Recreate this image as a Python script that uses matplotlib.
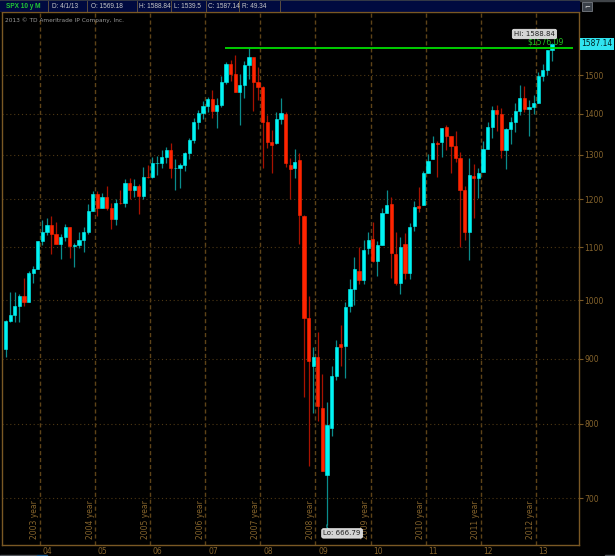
import matplotlib
matplotlib.use('Agg')
import matplotlib.pyplot as plt
import matplotlib.transforms as mtransforms
from matplotlib.patches import Rectangle
from matplotlib.ticker import NullLocator
import numpy as np

# SPX monthly candles, May 2003 .. Apr 2013
opens = [916.30, 963.59, 974.50, 990.31, 1008.01, 995.97, 1050.71, 1058.20,
         1111.92, 1131.13, 1144.94, 1126.21, 1107.30, 1120.68, 1140.84, 1101.72, 1104.24, 1114.58, 1130.20, 1173.82,
         1211.92, 1181.27, 1203.60, 1180.59, 1156.85, 1191.50, 1191.33, 1234.18, 1220.33, 1228.81, 1207.01, 1249.48,
         1248.29, 1280.08, 1280.66, 1294.87, 1310.61, 1270.09, 1270.20, 1276.66, 1303.82, 1335.85, 1377.94, 1400.63,
         1418.30, 1438.24, 1406.82, 1420.86, 1482.37, 1530.62, 1503.35, 1455.27, 1473.99, 1526.75, 1549.38, 1481.14,
         1467.97, 1378.60, 1330.45, 1326.41, 1385.97, 1399.62, 1276.69, 1269.42, 1287.83, 1164.17, 968.67, 888.61,
         902.99, 823.09, 729.57, 793.59, 872.74, 923.26, 920.82, 990.22, 1019.52, 1054.91, 1036.18, 1098.89,
         1116.56, 1073.89, 1105.36, 1171.23, 1188.58, 1087.30, 1031.10, 1107.53, 1049.72, 1143.49, 1185.71, 1186.60,
         1257.62, 1289.14, 1328.64, 1329.48, 1365.21, 1345.20, 1320.64, 1292.59, 1219.12, 1131.21, 1251.00, 1246.91,
         1258.86, 1312.45, 1365.90, 1408.47, 1397.86, 1309.87, 1362.33, 1379.32, 1406.54, 1440.90, 1412.20, 1416.18,
         1426.19, 1498.11, 1514.68, 1569.18]
highs = [965.38, 1015.33, 1015.41, 1011.01, 1040.29, 1053.79, 1063.65, 1112.56,
         1155.38, 1158.98, 1163.23, 1150.57, 1127.74, 1146.34, 1140.84, 1108.60, 1131.54, 1142.05, 1188.46, 1217.33,
         1217.80, 1212.44, 1229.11, 1191.88, 1199.56, 1219.59, 1245.15, 1245.86, 1243.13, 1233.34, 1270.64, 1275.80,
         1294.90, 1297.57, 1310.88, 1318.16, 1326.70, 1290.68, 1280.42, 1306.74, 1340.28, 1389.45, 1407.89, 1431.81,
         1441.61, 1461.57, 1438.89, 1498.02, 1535.56, 1540.56, 1555.90, 1503.89, 1538.74, 1576.09, 1545.79, 1523.57,
         1471.77, 1396.02, 1359.68, 1404.57, 1440.24, 1404.05, 1292.17, 1313.15, 1303.04, 1167.03, 1007.51, 918.85,
         943.85, 875.01, 832.98, 888.70, 930.17, 956.23, 996.68, 1039.47, 1080.15, 1101.36, 1113.69, 1130.38,
         1150.45, 1112.42, 1180.69, 1219.80, 1205.13, 1131.23, 1120.95, 1129.24, 1148.90, 1196.14, 1227.08, 1262.60,
         1302.67, 1344.07, 1332.28, 1364.56, 1370.58, 1345.20, 1356.48, 1307.38, 1229.29, 1292.66, 1277.55, 1269.37,
         1333.47, 1378.04, 1419.15, 1422.38, 1415.32, 1363.46, 1391.74, 1426.68, 1474.51, 1470.96, 1434.27, 1448.00,
         1509.94, 1530.94, 1570.28, 1588.84]
lows = [902.83, 961.00, 962.10, 960.84, 990.36, 995.97, 1031.20, 1058.20,
        1105.08, 1124.44, 1087.16, 1107.23, 1076.32, 1113.32, 1078.78, 1060.72, 1099.18, 1090.19, 1127.60, 1173.76,
        1163.75, 1180.95, 1176.92, 1136.15, 1146.18, 1188.30, 1183.55, 1201.07, 1205.35, 1168.20, 1201.07, 1246.59,
        1245.74, 1253.61, 1268.42, 1280.74, 1245.34, 1219.29, 1224.54, 1261.30, 1290.93, 1327.10, 1360.98, 1385.93,
        1403.97, 1389.42, 1363.98, 1416.37, 1476.70, 1484.18, 1454.25, 1370.60, 1439.29, 1489.56, 1406.10, 1435.65,
        1270.05, 1316.75, 1256.98, 1324.35, 1373.07, 1272.00, 1200.44, 1247.45, 1106.42, 839.80, 741.02, 815.69,
        804.30, 734.52, 666.79, 783.32, 866.10, 888.86, 869.32, 978.51, 991.97, 1029.38, 1029.38, 1085.89,
        1071.59, 1044.50, 1105.36, 1170.69, 1040.78, 1028.33, 1010.91, 1039.70, 1039.70, 1131.87, 1173.00, 1186.60,
        1257.62, 1289.14, 1249.05, 1294.70, 1311.80, 1258.07, 1282.86, 1101.54, 1114.22, 1074.77, 1158.66, 1202.37,
        1258.86, 1312.45, 1340.03, 1357.38, 1291.98, 1266.74, 1325.41, 1354.65, 1396.56, 1403.28, 1343.35, 1398.11,
        1426.19, 1485.01, 1501.48, 1539.50]
closes = [963.59, 974.50, 990.31, 1008.01, 995.97, 1050.71, 1058.20, 1111.92,
          1131.13, 1144.94, 1126.21, 1107.30, 1120.68, 1140.84, 1101.72, 1104.24, 1114.58, 1130.20, 1173.82, 1211.92,
          1181.27, 1203.60, 1180.59, 1156.85, 1191.50, 1191.33, 1234.18, 1220.33, 1228.81, 1207.01, 1249.48, 1248.29,
          1280.08, 1280.66, 1294.87, 1310.61, 1270.09, 1270.20, 1276.66, 1303.82, 1335.85, 1377.94, 1400.63, 1418.30,
          1438.24, 1406.82, 1420.86, 1482.37, 1530.62, 1503.35, 1455.27, 1473.99, 1526.75, 1549.38, 1481.14, 1468.36,
          1378.55, 1330.63, 1322.70, 1385.59, 1400.38, 1280.00, 1267.38, 1282.83, 1166.36, 968.75, 896.24, 903.25,
          825.88, 735.09, 797.87, 872.81, 919.14, 919.32, 987.48, 1020.62, 1057.08, 1036.19, 1095.63, 1115.10,
          1073.87, 1104.49, 1169.43, 1186.69, 1089.41, 1030.71, 1101.60, 1049.33, 1141.20, 1183.26, 1180.55, 1257.64,
          1286.12, 1327.22, 1325.83, 1363.61, 1345.20, 1320.64, 1292.28, 1218.89, 1131.42, 1253.30, 1246.96, 1257.60,
          1312.41, 1365.68, 1408.47, 1397.91, 1310.33, 1362.16, 1379.32, 1406.58, 1440.67, 1412.16, 1416.18, 1426.19,
          1498.11, 1514.68, 1569.19, 1587.14]

price_ticks = [700, 800, 900, 1000, 1100, 1200, 1300, 1400, 1500]
year_labels = ['2003 year', '2004 year', '2005 year', '2006 year', '2007 year',
               '2008 year', '2009 year', '2010 year', '2011 year', '2012 year']
month_labels = ['04', '05', '06', '07', '08', '09', '10', '11', '12', '13']
first_jan = 8          # index of Jan 2004
level_line = 1576.09   # drawn price level
header = ['SPX 10 y M', 'D: 4/1/13', 'O: 1569.18', 'H: 1588.84', 'L: 1539.5', 'C: 1587.14', 'R: 49.34']

o = np.array(opens); h = np.array(highs); l = np.array(lows); c = np.array(closes)
idx = np.arange(len(c))
up = c >= o

axis_col = '#7a5824'
text_col = '#86642c'
cyan = '#00f4f4'
red = '#ff2400'

fig = plt.figure(figsize=(6.15, 5.56), dpi=100, facecolor='black')
ax = fig.add_axes([2 / 615, 11 / 556, 577 / 615, 533 / 556], facecolor='black')
ax.set_yscale('log')
ax.set_ylim(643.2, 1681.2)
ax.set_xlim(-0.78, 124.9)

# grid
for k in range(len(year_labels)):
    ax.axvline(first_jan - 0.5 + 12 * k, color='#5e4318', lw=1.0, linestyle=(0, (3, 2)), zorder=0)
for p in price_ticks:
    ax.axhline(p, color='#4e3814', lw=0.8, linestyle=(0, (1, 2.5)), zorder=0)

# candles
ax.vlines(idx[up], l[up], h[up], color='#0a8c8c', lw=0.9, zorder=2)
ax.vlines(idx[~up], l[~up], h[~up], color='#a81200', lw=0.9, zorder=2)
ax.bar(idx[up], c[up] - o[up], bottom=o[up], width=0.7, color=cyan, edgecolor=cyan, lw=0.4, zorder=3)
ax.bar(idx[~up], o[~up] - c[~up], bottom=c[~up], width=0.7, color=red, edgecolor=red, lw=0.4, zorder=3)

# price level line
ax.hlines(level_line, 47.8, 123.6, color='#00dd00', lw=1.3, zorder=4)
ax.text(121.6, level_line * 1.003, '$' + format(level_line, '.2f'), color='#22c022',
        fontsize=5.5, ha='right', va='bottom', zorder=5)

# hi / lo bubbles
last = len(c) - 1
ax.text(last - 3.8, h[last] * 1.017, 'Hi: ' + format(h[last], '.2f'), fontsize=5, color='#202020',
        ha='center', va='center', zorder=6,
        bbox=dict(boxstyle='round,pad=0.25', fc='#d4d4d4', ec='#f0f0f0', lw=0.5))
ilo = int(np.argmin(l))
ax.plot([ilo, ilo, ilo + 0.6], [l[ilo], l[ilo] * 0.996, l[ilo] * 0.989], color='#19b4b4', lw=0.8, zorder=5)
ax.text(ilo + 3.3, l[ilo] * 0.985, 'Lo: ' + format(l[ilo], '.2f'), fontsize=5, color='#202020',
        ha='center', va='center', zorder=6,
        bbox=dict(boxstyle='round,pad=0.25', fc='#d4d4d4', ec='#f0f0f0', lw=0.5))

# last price marker on the right axis
ytr = mtransforms.blended_transform_factory(ax.transAxes, ax.transData)
ax.text(1.004, c[last], format(c[last], '.2f'), transform=ytr, fontsize=5.5, color='#002020',
        ha='left', va='center', zorder=6, clip_on=False,
        bbox=dict(boxstyle='square,pad=0.15', fc='#30e4f0', ec='none'))

# axes styling
ax.yaxis.tick_right()
ax.set_yticks(price_ticks)
ax.set_yticklabels([str(p) for p in price_ticks])
ax.yaxis.set_minor_locator(NullLocator())
ax.tick_params(axis='y', colors=axis_col, labelcolor=text_col, labelsize=5.5, length=3, width=0.8, pad=1)
ax.set_xticks([])
for side in ['left', 'right', 'bottom', 'top']:
    ax.spines[side].set_color(axis_col)
    ax.spines[side].set_linewidth(1.0)

xtr = mtransforms.blended_transform_factory(ax.transData, ax.transAxes)
for k, (yl, ml) in enumerate(zip(year_labels, month_labels)):
    gx = first_jan - 0.5 + 12 * k
    ax.text(gx - 1.1, 0.011, yl, transform=xtr, rotation=90, fontsize=5.5, color=text_col,
            ha='center', va='bottom')
    ax.text(gx + 0.6, -0.012, ml, transform=xtr, fontsize=5.5, color=text_col,
            ha='left', va='center', clip_on=False)

# header bar
hdr = fig.add_axes([0, 1 - 12 / 556, 1, 12 / 556])
hdr.set_xlim(0, 615)
hdr.set_ylim(12, 0)
hdr.axis('off')
hdr.add_patch(Rectangle((0, 0), 615, 1.2, color='#404448'))
hdr.add_patch(Rectangle((0, 1.2), 579, 10.3, color='#000a40'))
hdr.plot([0, 579], [11.6, 11.6], color=axis_col, lw=0.9)
seps = [48.3, 87.3, 136.7, 170.7, 206, 239.3, 280]
for sx in seps:
    hdr.plot([sx, sx], [1.2, 11.5], color='#6a5a40', lw=0.6)
hx = [6, 52, 91, 139, 174, 208, 242]
for i, (tx, t) in enumerate(zip(hx, header)):
    hdr.text(tx, 6.6, t, fontsize=4.7, family=['Liberation Sans', 'DejaVu Sans'],
             color='#22c833' if i == 0 else '#c8c8c8',
             fontweight='bold' if i == 0 else 'normal', ha='left', va='center')
hdr.add_patch(Rectangle((582, 1.8), 10, 9, fc='#3a4048', ec='#8a9098', lw=0.5))
hdr.text(587, 6.5, '⌐', fontsize=5, color='#e0e0e0', ha='center', va='center')

fig.text(5 / 615, 1 - 20 / 556, '2013 © TD Ameritrade IP Company, Inc.', fontsize=4.2,
         color='#9a9a9a', ha='left', va='center')

# scrollbar remnants along the bottom edge
fig.add_artist(Rectangle((0, 0), 37 / 615, 1.5 / 556, transform=fig.transFigure, color='#50545a'))
fig.add_artist(Rectangle((37 / 615, 0), 10 / 615, 1.5 / 556, transform=fig.transFigure, color='#1c5a8c'))
fig.add_artist(Rectangle((605 / 615, 0), 10 / 615, 1.5 / 556, transform=fig.transFigure, color='#50545a'))

fig.savefig('out.png', dpi=100, facecolor='black')
